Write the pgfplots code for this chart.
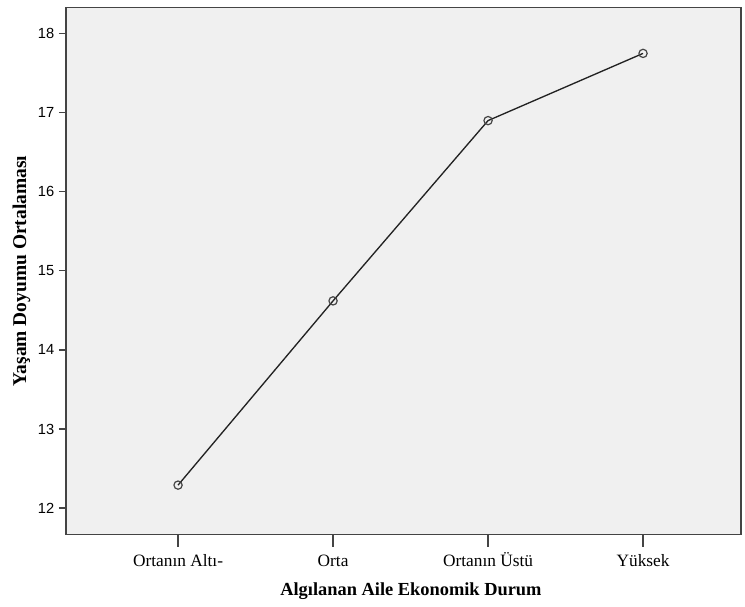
\documentclass[border=0pt]{standalone}
\usepackage{fontspec}
\setmainfont{Liberation Serif}
\setsansfont{Liberation Sans}
\usepackage{pgfplots}
\pgfplotsset{compat=1.18}
\definecolor{spssbg}{HTML}{F0F0F0}
\definecolor{axisgray}{HTML}{444444}
\definecolor{linegray}{HTML}{222222}

\begin{document}
\begin{tikzpicture}
\useasboundingbox (0,0) rectangle (558.75pt,454.5pt);
\begin{axis}[
    at={(49.5pt,53.6pt)}, anchor=south west,
    width=506.25pt, height=395.25pt, scale only axis,
    axis background/.style={fill=spssbg},
    axis line style={axisgray, line width=1pt},
    xmin=-0.723, xmax=3.632,
    ymin=11.665, ymax=18.33,
    xtick={0,1,2,3},
    xticklabels={Ortanın Altı-, Orta, Ortanın Üstü, Yüksek},
    ytick={12,13,14,15,16,17,18},
    tick align=outside,
    xtick pos=bottom, ytick pos=left,
    major tick length=5.25pt,
    xtick style={axisgray, line width=1pt, /pgfplots/major tick length=9pt},
    ytick style={axisgray, line width=1pt},
    yticklabel style={font=\sffamily\fontsize{11pt}{13pt}\selectfont, /pgf/number format/assume math mode=true},
    xticklabel style={font=\fontsize{13pt}{15pt}\selectfont, text height=9.5pt, text depth=3pt, yshift=-5.5pt},
    xlabel={Algılanan Aile Ekonomik Durum},
    ylabel={Yaşam Doyumu Ortalaması},
    xlabel style={font=\bfseries\fontsize{13.8pt}{16pt}\selectfont, at={(axis description cs:0.511,-0.107)}, anchor=center},
    ylabel style={font=\bfseries\fontsize{14.6pt}{16pt}\selectfont, at={(axis description cs:-0.066,0.5)}, anchor=center},
]
\addplot[linegray, line width=1pt, mark=o, mark options={line width=0.9pt, axisgray}, mark size=3.1pt]
  coordinates {(0,12.29) (1,14.62) (2,16.90) (3,17.75)};
\end{axis}
\end{tikzpicture}
\end{document}
